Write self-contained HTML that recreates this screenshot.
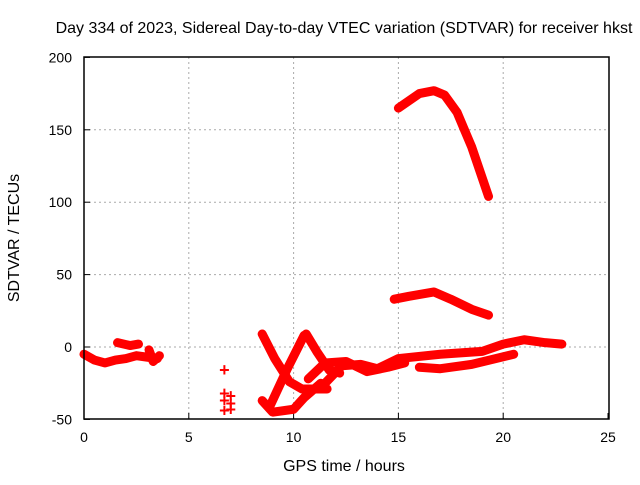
<!DOCTYPE html>
<html><head><meta charset="utf-8"><style>
body{margin:0;background:#fff;font-family:"Liberation Sans",sans-serif}
svg text{font-family:"Liberation Sans",sans-serif;font-size:14px;fill:#000}
svg text.big{font-size:16px}
</style></head><body>
<svg id="chart" width="640" height="480">
<text class="big" x="344" y="33" text-anchor="middle">Day 334 of 2023, Sidereal Day-to-day VTEC variation (SDTVAR) for receiver hkst</text>
<text class="big" x="344" y="471" text-anchor="middle">GPS time / hours</text>
<text class="big" transform="translate(19,238) rotate(-90)" text-anchor="middle">SDTVAR / TECUs</text>
<g id="grid"></g><g id="ticks"></g><g id="marks"></g>
<rect x="84" y="57" width="525" height="362" fill="none" stroke="#000" stroke-width="1.5"/>
</svg>
<script>
const xTicks=[0,5,10,15,20,25];
const yTicks=[-50,0,50,100,150,200];
const trackA=[[0,-5],[0.5,-9],[1,-11],[1.5,-9],[2,-8],[2.5,-6],[3,-7],[3.5,-8]];
const trackA2=[[1.6,3],[2.2,1],[2.6,2]];
const trackA3=[[3.1,-2],[3.3,-10],[3.6,-6]];
const trackB=[[8.5,9],[9.1,-8],[9.8,-24],[10.4,-29],[11.6,-29]];
const trackC=[[10.5,8],[9.7,-15],[8.9,-40]];
const trackD=[[10.6,9],[11.1,-3],[11.7,-16],[12.2,-18]];
const trackE=[[8.5,-37],[9,-45],[10,-43],[10.5,-35],[11.3,-25]];
const trackF=[[11.5,-25],[12.3,-13],[13.2,-12],[14,-15],[15,-8],[17,-5],[19,-3],[20,2],[21,5],[22,3],[22.8,2]];
const trackG=[[10.7,-22],[11.5,-11],[12.5,-10],[13.5,-17],[14.5,-14],[15.3,-11]];
const trackH=[[16,-14],[17,-15],[18.5,-12],[20.5,-5]];
const trackI=[[15,165],[15.5,170],[16,175],[16.7,177],[17.2,174],[17.8,162],[18.5,138],[19.3,104]];
const trackJ=[[14.8,33],[15.5,35],[16.7,38],[17.5,33],[18.5,26],[19.3,22]];
const singles=[[6.7,-16],[6.7,-32],[6.7,-37],[6.7,-44],[7,-34],[7,-39],[7,-43]];
const tracks=[trackA,trackA2,trackA3,trackB,trackC,trackD,trackE,trackF,trackG,trackH,trackI,trackJ];
const X=h=>84+h*20.96, Y=v=>347-v*1.448;
const NS="http://www.w3.org/2000/svg";
function mk(t,a,p){const e=document.createElementNS(NS,t);for(const k in a)e.setAttribute(k,a[k]);document.getElementById(p).appendChild(e);return e;}
xTicks.forEach(t=>{
  if(t>0&&t<25){const g=mk('line',{x1:X(t),x2:X(t),y1:57,y2:419,stroke:'#aaa','stroke-dasharray':'2,3'},'grid');
  
  }
  mk('line',{x1:X(t),x2:X(t),y1:419,y2:413,stroke:'#000'},'ticks');
  const l=mk('text',{x:X(t),y:442,'text-anchor':'middle'},'ticks');l.textContent=t;
  
  
});
yTicks.forEach(t=>{
  if(t>-50&&t<200){const g=mk('line',{x1:84,x2:609,y1:Y(t),y2:Y(t),stroke:'#aaa','stroke-dasharray':'2,3'},'grid');
  
  }
  mk('line',{x1:84,x2:90,y1:Y(t),y2:Y(t),stroke:'#000'},'ticks');
  const l=mk('text',{x:72,y:Y(t)+5,'text-anchor':'end'},'ticks');l.textContent=t;
  
  
});
tracks.forEach(tr=>{
  const p=mk('polyline',{points:tr.map(d=>X(d[0])+','+Y(d[1])).join(' '),fill:'none',stroke:'#f00','stroke-width':9,'stroke-linejoin':'round','stroke-linecap':'round'},'marks');
  
  
});
singles.forEach(d=>{
  const t=mk('text',{x:X(d[0]),y:Y(d[1])+6,'text-anchor':'middle',style:'fill:#f00;font-size:18px;font-weight:bold'},'marks');t.textContent='+';
  
  
});
</script>
</body></html>
